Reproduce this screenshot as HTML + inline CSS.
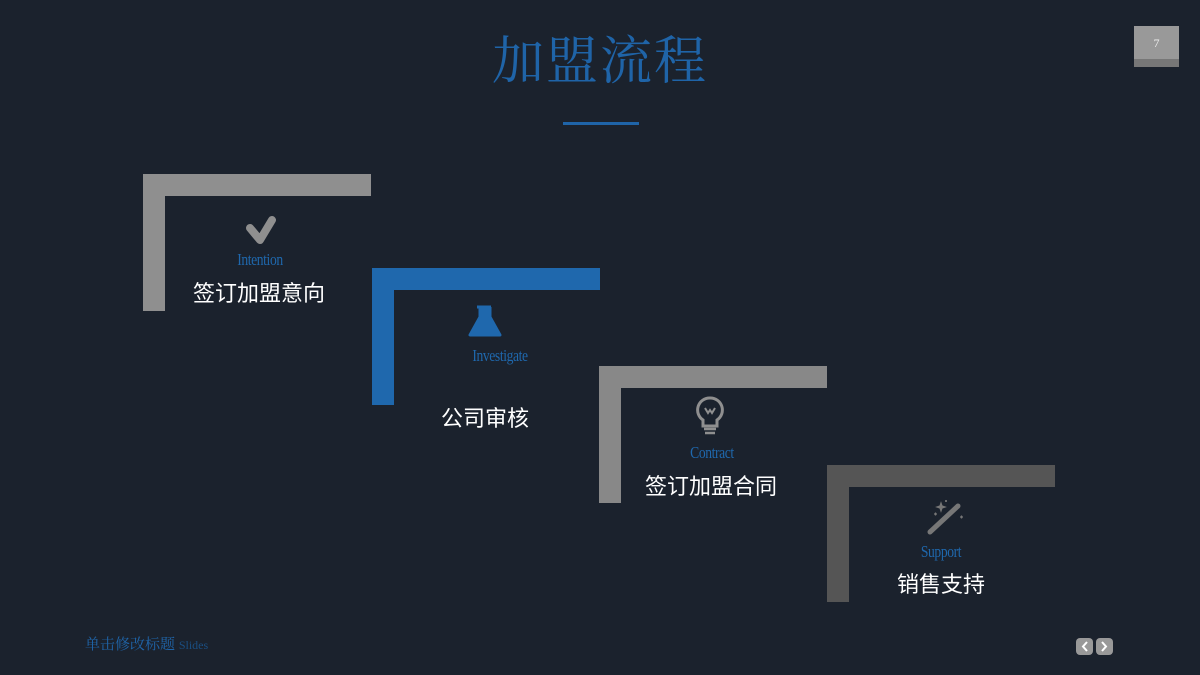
<!DOCTYPE html>
<html><head><meta charset="utf-8"><style>
body{margin:0;width:1200px;height:675px;background:#1b222d;position:relative;overflow:hidden;font-family:"Liberation Sans","Noto Sans CJK SC",sans-serif}
.a{position:absolute}
.lbl{position:absolute;width:200px;text-align:center;color:#1f68ad;font-family:"Liberation Serif",serif;font-size:17px;transform:scaleX(0.8);letter-spacing:-0.5px}
.cn{position:absolute;width:240px;text-align:center;color:#fff;font-size:22px;font-family:"Noto Sans CJK SC",sans-serif}
</style></head><body>
<div class="a" style="left:0;top:22px;width:1200px;text-align:center;color:#1f64a8;font-family:'Noto Serif CJK SC',serif;font-size:52px;line-height:70px;letter-spacing:2px">加盟流程</div>
<div class="a" style="left:563px;top:122px;width:76px;height:3px;background:#1f64a8"></div>
<div class="a" style="left:1134px;top:26px;width:45px;height:41px;background:#999"></div>
<div class="a" style="left:1134px;top:59px;width:45px;height:8px;background:#777"></div>
<div class="a" style="left:1134px;top:36px;width:45px;text-align:center;color:#eee;font-size:12px;font-family:'Liberation Serif',serif">7</div>

<div class="a" style="left:143px;top:174px;width:228px;height:22px;background:#8f8f8f"></div>
<div class="a" style="left:143px;top:174px;width:22px;height:137px;background:#8f8f8f"></div>
<div class="a" style="left:372px;top:268px;width:228px;height:22px;background:#1f68ad"></div>
<div class="a" style="left:372px;top:268px;width:22px;height:137px;background:#1f68ad"></div>
<div class="a" style="left:599px;top:366px;width:228px;height:22px;background:#888"></div>
<div class="a" style="left:599px;top:366px;width:22px;height:137px;background:#888"></div>
<div class="a" style="left:827px;top:465px;width:228px;height:22px;background:#555"></div>
<div class="a" style="left:827px;top:465px;width:22px;height:137px;background:#555"></div>

<svg class="a" style="left:0;top:0" width="1200" height="675">
<path d="M250 228 L260 240 L272 220" stroke="#8f8f8f" stroke-width="8" fill="none" stroke-linecap="round" stroke-linejoin="round"/>
<path d="M477 307 h14 M480 307 v10 L470 335 h30 L490 317 v-10" fill="#1f68ad" stroke="#1f68ad" stroke-width="3" stroke-linejoin="round"/>
<path d="M710 398 a12 12 0 0 0 -7 22 v6 h14 v-6 a12 12 0 0 0 -7 -22z" fill="none" stroke="#8f8f8f" stroke-width="3"/>
<path d="M704 429 h12 M705 433 h10" stroke="#8f8f8f" stroke-width="2.5"/>
<path d="M705 408 l3 5 l2 -3 l2 3 l3 -5" stroke="#8f8f8f" stroke-width="2" fill="none"/>
<path d="M930 532 L958 506" stroke="#777" stroke-width="5" stroke-linecap="round"/>
<path d="M940 506 l1 -3 l1 3 l3 1 l-3 1 l-1 3 l-1 -3 l-3 -1z M934 514 l3 0 M935.5 512.5 v3 M960 517 l3 0 M961.5 515.5 v3 M945 501 h2 M946 500 v2" stroke="#777" stroke-width="1.2" fill="#777"/>
<rect x="1076" y="638" width="17" height="17" rx="4" fill="#999"/>
<rect x="1096" y="638" width="17" height="17" rx="4" fill="#999"/>
<path d="M1087 642 l-4 4.5 l4 4.5 M1102 642 l4 4.5 l-4 4.5" stroke="#fff" stroke-width="2" fill="none"/>
</svg>

<div class="lbl" style="left:160px;top:250px">Intention</div>
<div class="cn" style="left:139px;top:276px">签订加盟意向</div>
<div class="lbl" style="left:400px;top:346px">Investigate</div>
<div class="cn" style="left:365px;top:401px">公司审核</div>
<div class="lbl" style="left:612px;top:443px">Contract</div>
<div class="cn" style="left:591px;top:469px">签订加盟合同</div>
<div class="lbl" style="left:841px;top:542px">Support</div>
<div class="cn" style="left:821px;top:567px">销售支持</div>

<div class="a" style="left:85px;top:633px;color:#1f64a8;font-size:15px;font-family:'Noto Serif CJK SC',serif">单击修改标题 <span style="font-family:'Liberation Serif',serif;font-size:12px;color:#1a4e82">Slides</span></div>
</body></html>
